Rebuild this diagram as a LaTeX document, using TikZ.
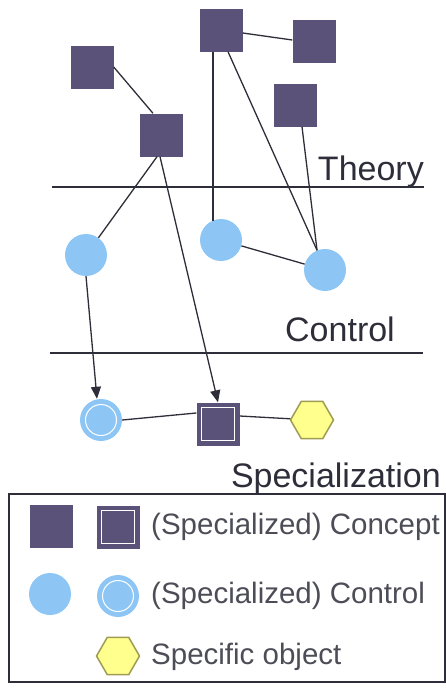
\documentclass[tikz,border=0pt]{standalone}
\usepackage{fontspec}
\setmainfont{Liberation Sans}
\usetikzlibrary{shapes.geometric,arrows.meta}

\definecolor{concept}{HTML}{5A5279}
\definecolor{ctrl}{HTML}{8DC6F5}
\definecolor{objfill}{HTML}{FFFF8E}
\definecolor{objline}{HTML}{9E9C52}
\definecolor{ink}{HTML}{2E2E3A}

\tikzset{
  concept/.style={rectangle,fill=concept,minimum size=43pt,inner sep=0pt},
  specconcept/.style={concept,
    path picture={\draw[white,line width=1pt]
      ([shift={(5pt,5pt)}]path picture bounding box.south west) rectangle
      ([shift={(-5pt,-5pt)}]path picture bounding box.north east);}},
  control/.style={circle,fill=ctrl,minimum size=42pt,inner sep=0pt},
  speccontrol/.style={control,
    path picture={\draw[white,line width=1pt]
      (path picture bounding box.center) circle (15.5pt);}},
  object/.style={regular polygon,regular polygon sides=6,
    fill=objfill,draw=objline,line width=1.5pt,minimum size=43pt,inner sep=0pt},
  link/.style={draw=ink,line width=1.3pt},
  refine/.style={link,-{Triangle[length=12pt,width=10pt]}},
  layer/.style={draw=ink,line width=1.6pt},
  layertitle/.style={font=\fontsize{34}{40}\selectfont,text=ink,inner sep=0pt},
  legendtext/.style={font=\fontsize{29.5}{36}\selectfont,text=ink!85,inner sep=0pt,anchor=west},
}

\begin{document}
\begin{tikzpicture}[x=1pt,y=-1pt]
  \useasboundingbox (0,0) rectangle (446,688);

  % layer boundaries and titles
  \coordinate (t1) at (52,187);  \coordinate (t2) at (424,187);
  \coordinate (c1) at (50,353);  \coordinate (c2) at (423,353);
  \draw[layer] (t1) -- (t2);
  \draw[layer] (c1) -- (c2);
  \node[layertitle,anchor=base east] (theory) at (424,180) {Theory};
  \node[layertitle,anchor=base east] (control) at (395,341) {Control};
  \node[layertitle,anchor=base east] (special) at (441,487) {Specialization};

  % theory layer: concepts
  \node[concept] (S1) at (92,67) {};
  \node[concept] (S2) at (161,135) {};
  \node[concept] (S3) at (221,30) {};
  \node[concept] (S4) at (314,41) {};
  \node[concept] (S5) at (295,105) {};

  % control layer
  \node[control] (C1) at (86,255) {};
  \node[control] (C2) at (221,240) {};
  \node[control] (C3) at (325,270) {};

  % specialization layer
  \node[speccontrol] (SC) at (101,420) {};
  \node[specconcept] (SQ) at (218,424) {};
  \node[object] (H) at (312,420) {};

  % relations
  \draw[link] (S1.east) -- ([xshift=-8pt]S2.north);
  \draw[link] ([yshift=-3pt]S3.east) -- ([yshift=1pt]S4.west);
  \draw[link] ([xshift=-4pt]S2.south) -- (C1);
  \draw[link] ([xshift=-8pt]S3.south) -- ([xshift=-8pt,yshift=-2pt]S3.south |- C2.north);
  \draw[link] ([xshift=7pt]S3.south) -- (C3.112);
  \draw[link] ([xshift=7pt]S5.south) -- (C3.112);
  \draw[link] (C2) -- (C3);
  \draw[refine] ([xshift=-1pt]S2.south) -- (SQ.north);
  \draw[refine] (C1.south) -- ([xshift=-4pt]SC.north);
  \draw[link] (SC.east) -- ([yshift=11pt]SQ.west);
  \draw[link] ([yshift=8pt]SQ.east) -- (H);

  % legend
  \node[draw=ink,line width=2pt,minimum width=436pt,minimum height=188pt,
        inner sep=0pt] (legend) at (227,588) {};
  \node[concept] (L1) at (51,526) {};
  \node[specconcept] (L2) at (118,527) {};
  \node[legendtext] (L2t) at (151,527) {(Specialized) Concept};
  \node[control] (L3) at (50,594) {};
  \node[speccontrol] (L4) at (118,596) {};
  \node[legendtext] (L4t) at (151,596) {(Specialized) Control};
  \node[object] (L5) at (118,656) {};
  \node[legendtext] (L5t) at (151,657) {Specific object};
\end{tikzpicture}
\end{document}
